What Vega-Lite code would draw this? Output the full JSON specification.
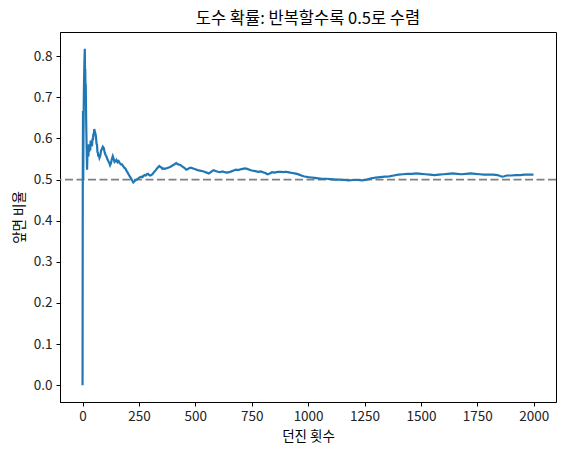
{
  "$schema": "https://vega.github.io/schema/vega-lite/v6.json",
  "description": "Coin flip running proportion of heads",
  "width": 496,
  "height": 370,
  "autosize": {"type": "none"},
  "padding": {"left": 60, "top": 32, "right": 10, "bottom": 53},
  "background": "white",
  "title": {
    "text": "도수 확률: 반복할수록 0.5로 수렴",
    "font": "Noto Sans CJK KR",
    "fontSize": 16.5,
    "fontWeight": "normal",
    "color": "#000000",
    "offset": 5
  },
  "config": {
    "view": {"stroke": "#000000", "strokeWidth": 1},
    "axis": {
      "labelFont": "Noto Sans CJK KR",
      "titleFont": "Noto Sans CJK KR",
      "labelFontSize": 13.5,
      "titleFontSize": 13.5,
      "titleFontWeight": "normal",
      "labelColor": "#222222",
      "titleColor": "#000000",
      "domainColor": "#000000",
      "tickColor": "#000000",
      "tickSize": 4,
      "grid": false
    }
  },
  "datasets": {
    "flips": [
      {"n": 0, "ratio": 0}, {"n": 1, "ratio": 0.5}, {"n": 2, "ratio": 0.667}, {"n": 3, "ratio": 0.5},
      {"n": 4, "ratio": 0.6}, {"n": 5, "ratio": 0.667}, {"n": 6, "ratio": 0.714}, {"n": 7, "ratio": 0.75},
      {"n": 8, "ratio": 0.778}, {"n": 9, "ratio": 0.8}, {"n": 10, "ratio": 0.818}, {"n": 11, "ratio": 0.75},
      {"n": 12, "ratio": 0.769}, {"n": 13, "ratio": 0.714}, {"n": 14, "ratio": 0.733}, {"n": 15, "ratio": 0.688},
      {"n": 16, "ratio": 0.647}, {"n": 17, "ratio": 0.611}, {"n": 18, "ratio": 0.579}, {"n": 19, "ratio": 0.55},
      {"n": 20, "ratio": 0.524}, {"n": 21, "ratio": 0.545}, {"n": 22, "ratio": 0.565}, {"n": 23, "ratio": 0.583},
      {"n": 24, "ratio": 0.56}, {"n": 25, "ratio": 0.577}, {"n": 26, "ratio": 0.556}, {"n": 27, "ratio": 0.571},
      {"n": 28, "ratio": 0.586}, {"n": 29, "ratio": 0.567}, {"n": 30, "ratio": 0.581}, {"n": 32, "ratio": 0.576},
      {"n": 34, "ratio": 0.571}, {"n": 36, "ratio": 0.595}, {"n": 38, "ratio": 0.59}, {"n": 40, "ratio": 0.585},
      {"n": 42, "ratio": 0.581}, {"n": 44, "ratio": 0.6}, {"n": 46, "ratio": 0.596}, {"n": 48, "ratio": 0.612},
      {"n": 50, "ratio": 0.608}, {"n": 52, "ratio": 0.623}, {"n": 54, "ratio": 0.618}, {"n": 56, "ratio": 0.614},
      {"n": 58, "ratio": 0.61}, {"n": 60, "ratio": 0.6}, {"n": 62, "ratio": 0.587}, {"n": 64, "ratio": 0.585},
      {"n": 66, "ratio": 0.567}, {"n": 68, "ratio": 0.565}, {"n": 70, "ratio": 0.556}, {"n": 72, "ratio": 0.562},
      {"n": 75, "ratio": 0.553}, {"n": 78, "ratio": 0.557}, {"n": 82, "ratio": 0.57}, {"n": 86, "ratio": 0.575},
      {"n": 90, "ratio": 0.58}, {"n": 94, "ratio": 0.577}, {"n": 98, "ratio": 0.566}, {"n": 102, "ratio": 0.56},
      {"n": 106, "ratio": 0.556}, {"n": 110, "ratio": 0.55}, {"n": 114, "ratio": 0.545}, {"n": 118, "ratio": 0.541},
      {"n": 122, "ratio": 0.535}, {"n": 126, "ratio": 0.54}, {"n": 130, "ratio": 0.55}, {"n": 134, "ratio": 0.557},
      {"n": 138, "ratio": 0.55}, {"n": 142, "ratio": 0.543}, {"n": 146, "ratio": 0.545}, {"n": 150, "ratio": 0.548},
      {"n": 155, "ratio": 0.542}, {"n": 160, "ratio": 0.545}, {"n": 165, "ratio": 0.54}, {"n": 170, "ratio": 0.537},
      {"n": 175, "ratio": 0.537}, {"n": 180, "ratio": 0.533}, {"n": 185, "ratio": 0.529}, {"n": 190, "ratio": 0.527},
      {"n": 195, "ratio": 0.521}, {"n": 200, "ratio": 0.517}, {"n": 205, "ratio": 0.512}, {"n": 210, "ratio": 0.507},
      {"n": 215, "ratio": 0.503}, {"n": 220, "ratio": 0.498}, {"n": 225, "ratio": 0.493}, {"n": 230, "ratio": 0.496},
      {"n": 235, "ratio": 0.498}, {"n": 240, "ratio": 0.5}, {"n": 245, "ratio": 0.502}, {"n": 250, "ratio": 0.504},
      {"n": 255, "ratio": 0.506}, {"n": 260, "ratio": 0.507}, {"n": 265, "ratio": 0.506}, {"n": 270, "ratio": 0.509},
      {"n": 275, "ratio": 0.511}, {"n": 280, "ratio": 0.51}, {"n": 285, "ratio": 0.513}, {"n": 290, "ratio": 0.514},
      {"n": 295, "ratio": 0.511}, {"n": 300, "ratio": 0.51}, {"n": 305, "ratio": 0.511}, {"n": 310, "ratio": 0.513},
      {"n": 315, "ratio": 0.517}, {"n": 320, "ratio": 0.52}, {"n": 325, "ratio": 0.523}, {"n": 330, "ratio": 0.527},
      {"n": 335, "ratio": 0.53}, {"n": 340, "ratio": 0.533}, {"n": 345, "ratio": 0.531}, {"n": 350, "ratio": 0.529},
      {"n": 355, "ratio": 0.526}, {"n": 360, "ratio": 0.527}, {"n": 365, "ratio": 0.526}, {"n": 370, "ratio": 0.527},
      {"n": 375, "ratio": 0.528}, {"n": 380, "ratio": 0.529}, {"n": 385, "ratio": 0.53}, {"n": 390, "ratio": 0.531},
      {"n": 395, "ratio": 0.533}, {"n": 400, "ratio": 0.535}, {"n": 405, "ratio": 0.536}, {"n": 410, "ratio": 0.538},
      {"n": 415, "ratio": 0.54}, {"n": 420, "ratio": 0.538}, {"n": 425, "ratio": 0.537}, {"n": 430, "ratio": 0.536},
      {"n": 435, "ratio": 0.535}, {"n": 440, "ratio": 0.533}, {"n": 445, "ratio": 0.531}, {"n": 450, "ratio": 0.529},
      {"n": 455, "ratio": 0.527}, {"n": 460, "ratio": 0.524}, {"n": 465, "ratio": 0.525}, {"n": 470, "ratio": 0.527},
      {"n": 475, "ratio": 0.528}, {"n": 480, "ratio": 0.529}, {"n": 485, "ratio": 0.528}, {"n": 490, "ratio": 0.527},
      {"n": 500, "ratio": 0.525}, {"n": 510, "ratio": 0.523}, {"n": 520, "ratio": 0.522}, {"n": 530, "ratio": 0.521},
      {"n": 540, "ratio": 0.519}, {"n": 550, "ratio": 0.517}, {"n": 560, "ratio": 0.515}, {"n": 570, "ratio": 0.519},
      {"n": 580, "ratio": 0.523}, {"n": 590, "ratio": 0.521}, {"n": 600, "ratio": 0.519}, {"n": 610, "ratio": 0.518},
      {"n": 620, "ratio": 0.52}, {"n": 630, "ratio": 0.518}, {"n": 640, "ratio": 0.517}, {"n": 650, "ratio": 0.518},
      {"n": 660, "ratio": 0.52}, {"n": 670, "ratio": 0.522}, {"n": 680, "ratio": 0.524}, {"n": 690, "ratio": 0.523},
      {"n": 700, "ratio": 0.525}, {"n": 710, "ratio": 0.526}, {"n": 720, "ratio": 0.527}, {"n": 730, "ratio": 0.526},
      {"n": 740, "ratio": 0.524}, {"n": 750, "ratio": 0.522}, {"n": 760, "ratio": 0.521}, {"n": 770, "ratio": 0.52},
      {"n": 780, "ratio": 0.519}, {"n": 790, "ratio": 0.52}, {"n": 800, "ratio": 0.518}, {"n": 810, "ratio": 0.516},
      {"n": 820, "ratio": 0.513}, {"n": 830, "ratio": 0.515}, {"n": 840, "ratio": 0.518}, {"n": 850, "ratio": 0.517},
      {"n": 860, "ratio": 0.518}, {"n": 870, "ratio": 0.519}, {"n": 880, "ratio": 0.519}, {"n": 890, "ratio": 0.518},
      {"n": 900, "ratio": 0.519}, {"n": 910, "ratio": 0.518}, {"n": 920, "ratio": 0.517}, {"n": 930, "ratio": 0.516},
      {"n": 940, "ratio": 0.515}, {"n": 950, "ratio": 0.514}, {"n": 960, "ratio": 0.512}, {"n": 970, "ratio": 0.51},
      {"n": 980, "ratio": 0.508}, {"n": 990, "ratio": 0.507}, {"n": 1000, "ratio": 0.506}, {"n": 1015, "ratio": 0.505},
      {"n": 1030, "ratio": 0.504}, {"n": 1045, "ratio": 0.503}, {"n": 1060, "ratio": 0.502}, {"n": 1080, "ratio": 0.502},
      {"n": 1100, "ratio": 0.501}, {"n": 1120, "ratio": 0.5}, {"n": 1140, "ratio": 0.5}, {"n": 1160, "ratio": 0.499},
      {"n": 1180, "ratio": 0.498}, {"n": 1200, "ratio": 0.499}, {"n": 1220, "ratio": 0.499}, {"n": 1240, "ratio": 0.498},
      {"n": 1260, "ratio": 0.5}, {"n": 1280, "ratio": 0.503}, {"n": 1300, "ratio": 0.505}, {"n": 1320, "ratio": 0.506},
      {"n": 1340, "ratio": 0.507}, {"n": 1360, "ratio": 0.508}, {"n": 1380, "ratio": 0.51}, {"n": 1400, "ratio": 0.512},
      {"n": 1420, "ratio": 0.513}, {"n": 1440, "ratio": 0.514}, {"n": 1460, "ratio": 0.514}, {"n": 1480, "ratio": 0.515},
      {"n": 1500, "ratio": 0.514}, {"n": 1520, "ratio": 0.513}, {"n": 1540, "ratio": 0.512}, {"n": 1560, "ratio": 0.511},
      {"n": 1580, "ratio": 0.512}, {"n": 1600, "ratio": 0.513}, {"n": 1620, "ratio": 0.514}, {"n": 1640, "ratio": 0.515},
      {"n": 1660, "ratio": 0.514}, {"n": 1680, "ratio": 0.513}, {"n": 1700, "ratio": 0.514}, {"n": 1720, "ratio": 0.515},
      {"n": 1740, "ratio": 0.514}, {"n": 1760, "ratio": 0.513}, {"n": 1780, "ratio": 0.512}, {"n": 1800, "ratio": 0.512},
      {"n": 1820, "ratio": 0.512}, {"n": 1840, "ratio": 0.511}, {"n": 1860, "ratio": 0.507}, {"n": 1870, "ratio": 0.508},
      {"n": 1880, "ratio": 0.51}, {"n": 1900, "ratio": 0.51}, {"n": 1920, "ratio": 0.511}, {"n": 1940, "ratio": 0.511},
      {"n": 1960, "ratio": 0.512}, {"n": 1980, "ratio": 0.512}, {"n": 1999, "ratio": 0.512}
    ],
    "reference": [{"y": 0.5}]
  },
  "layer": [
    {
      "data": {"name": "reference"},
      "mark": {"type": "rule", "color": "#808080", "strokeWidth": 1.6, "strokeDash": [8, 3.5]},
      "encoding": {
        "y": {"field": "y", "type": "quantitative", "scale": {"domain": [-0.041, 0.859], "nice": false, "zero": false}}
      }
    },
    {
      "data": {"name": "flips"},
      "mark": {"type": "line", "color": "#1f77b4", "strokeWidth": 2.2, "clip": true},
      "encoding": {
        "x": {
          "field": "n",
          "type": "quantitative",
          "title": "던진 횟수",
          "scale": {"domain": [-100, 2099], "nice": false, "zero": false},
          "axis": {"values": [0, 250, 500, 750, 1000, 1250, 1500, 1750, 2000], "format": "d", "labelPadding": 3, "titlePadding": 7}
        },
        "y": {
          "field": "ratio",
          "type": "quantitative",
          "title": "앞면 비율",
          "scale": {"domain": [-0.041, 0.859], "nice": false, "zero": false},
          "axis": {"values": [0, 0.1, 0.2, 0.3, 0.4, 0.5, 0.6, 0.7, 0.8], "format": ".1f", "labelPadding": 4, "titlePadding": 7}
        }
      }
    }
  ]
}
